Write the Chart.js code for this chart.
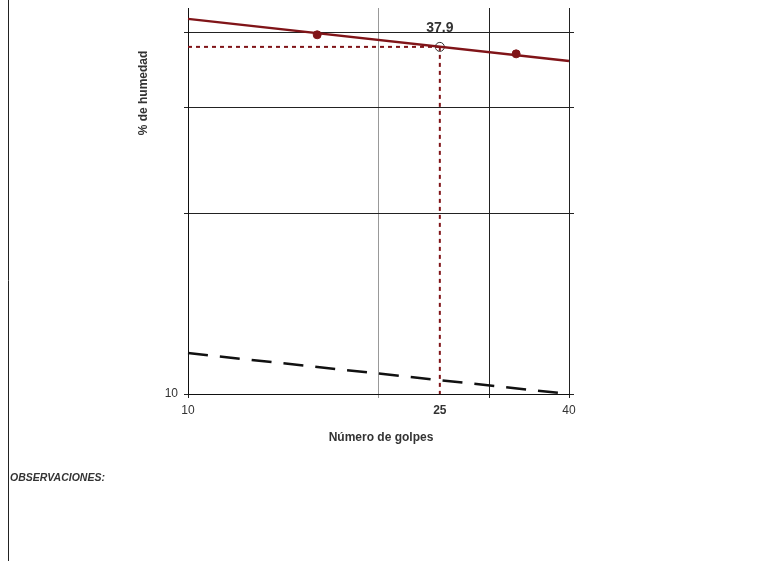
<!DOCTYPE html>
<html>
<head>
<meta charset="utf-8">
<script src="https://cdn.jsdelivr.net/npm/chart.js@4"></script>
<style>
  html, body { margin: 0; padding: 0; background: #fff; overflow: hidden; }
  #wrap { width: 768px; height: 561px; position: relative; }
</style>
</head>
<body>
<div id="wrap"><canvas id="chart" width="768" height="561"></canvas></div>
<script>
// datos
const golpesPuntos = [16, 33];
const humedadPuntos = [39.7, 36.9];
const golpesRecta = [10, 40];
const humedadRecta = [42.2, 35.9];
const golpes25 = 25;
const humedad25 = 37.9;
const golpesFlujo = [10, 40];
const humedadFlujo = [11.7, 10];
const xTicks = [10, 20, 25, 30, 40];
const xEtiquetas = [10, 25, 40];
const yTicks = [10, 20, 30, 40];
const yEtiquetas = [10];

const rojo = '#801418';
const texto = '#333';
const fuente = '"Liberation Sans", Arial, sans-serif';

const pares = (xs, ys) => xs.map((x, i) => ({ x: x, y: ys[i] }));

const extras = {
  id: 'extras',
  afterDraw(chart) {
    const ctx = chart.ctx;
    const xs = chart.scales.x, ys = chart.scales.y;
    ctx.save();
    // borde de pagina
    ctx.strokeStyle = '#222';
    ctx.lineWidth = 1;
    ctx.beginPath();
    ctx.moveTo(8.5, 0);
    ctx.lineTo(8.5, 561);
    ctx.stroke();

    ctx.fillStyle = texto;
    ctx.textAlign = 'center';
    ctx.textBaseline = 'alphabetic';
    ctx.font = 'bold 14px ' + fuente;
    ctx.fillText(String(humedad25), xs.getPixelForValue(golpes25), ys.getPixelForValue(humedad25) - 15);

    ctx.textBaseline = 'middle';
    ctx.font = 'bold 12px ' + fuente;
    ctx.fillText('Número de golpes', 381, 438);

    ctx.save();
    ctx.translate(144, 93);
    ctx.rotate(-Math.PI / 2);
    ctx.fillText('% de humedad', 0, 0);
    ctx.restore();

    ctx.textAlign = 'left';
    ctx.font = 'italic bold 10.5px ' + fuente;
    ctx.fillText('OBSERVACIONES:', 10, 478);
    ctx.restore();
  }
};

new Chart(document.getElementById('chart'), {
  type: 'scatter',
  data: {
    datasets: [
      {
        data: pares(golpesRecta, humedadRecta),
        showLine: true, borderColor: rojo, borderWidth: 2.5,
        pointRadius: 0, clip: false
      },
      {
        data: pares(golpesPuntos, humedadPuntos),
        showLine: false, pointRadius: 4,
        backgroundColor: rojo, borderColor: rojo
      },
      {
        data: [{ x: golpesRecta[0], y: humedad25 }, { x: golpes25, y: humedad25 }],
        showLine: true, borderColor: rojo, borderWidth: 2,
        borderDash: [4, 4], pointRadius: 0
      },
      {
        data: [{ x: golpes25, y: humedad25 }, { x: golpes25, y: yTicks[0] }],
        showLine: true, borderColor: rojo, borderWidth: 2,
        borderDash: [4, 4], pointRadius: 0
      },
      {
        data: pares(golpesFlujo, humedadFlujo),
        showLine: true, borderColor: '#111', borderWidth: 2.5,
        borderDash: [20, 12], pointRadius: 0, clip: false
      },
      {
        data: [{ x: golpes25, y: humedad25 }],
        showLine: false, pointRadius: 4.5, borderWidth: 1,
        borderColor: '#333', backgroundColor: 'rgba(0,0,0,0)'
      }
    ]
  },
  options: {
    responsive: false,
    animation: false,
    layout: { padding: { top: 8, left: 0, right: 0, bottom: 0 } },
    plugins: { legend: { display: false }, tooltip: { enabled: false } },
    scales: {
      x: {
        type: 'logarithmic', min: 10, max: 40,
        afterBuildTicks: (s) => { s.ticks = xTicks.map(v => ({ value: v })); },
        afterFit: (s) => { s.height = 167; },
        border: { color: '#111', width: 1 },
        grid: {
          color: (c) => c.tick && c.tick.value === 20 ? '#999' : (c.tick && c.tick.value === golpes25 ? 'rgba(0,0,0,0)' : '#222'),
          tickLength: 4
        },
        ticks: {
          autoSkip: false, maxRotation: 0, padding: 5, color: texto,
          font: (c) => ({ family: fuente, size: 12, weight: c.tick && c.tick.value === golpes25 ? 'bold' : 'normal' }),
          callback: (v) => xEtiquetas.includes(v) ? String(v) : ''
        }
      },
      y: {
        type: 'logarithmic', min: 10, max: 44,
        afterBuildTicks: (s) => { s.ticks = yTicks.map(v => ({ value: v })); },
        afterFit: (s) => { s.width = 188; s.paddingTop = 0; },
        border: { color: '#111', width: 1 },
        grid: { color: '#222', tickLength: 4 },
        ticks: {
          autoSkip: false, padding: 6, color: texto,
          font: { family: fuente, size: 12 },
          callback: (v) => yEtiquetas.includes(v) ? String(v) : ''
        }
      },
      yDer: {
        type: 'logarithmic', position: 'right', min: 10, max: 44,
        afterBuildTicks: (s) => { s.ticks = yTicks.map(v => ({ value: v })); },
        afterFit: (s) => { s.width = 199; s.paddingTop = 0; },
        border: { display: false },
        grid: { drawOnChartArea: false, color: '#222', tickLength: 5 },
        ticks: { callback: () => '' }
      }
    }
  },
  plugins: [extras]
});
</script>
</body>
</html>
